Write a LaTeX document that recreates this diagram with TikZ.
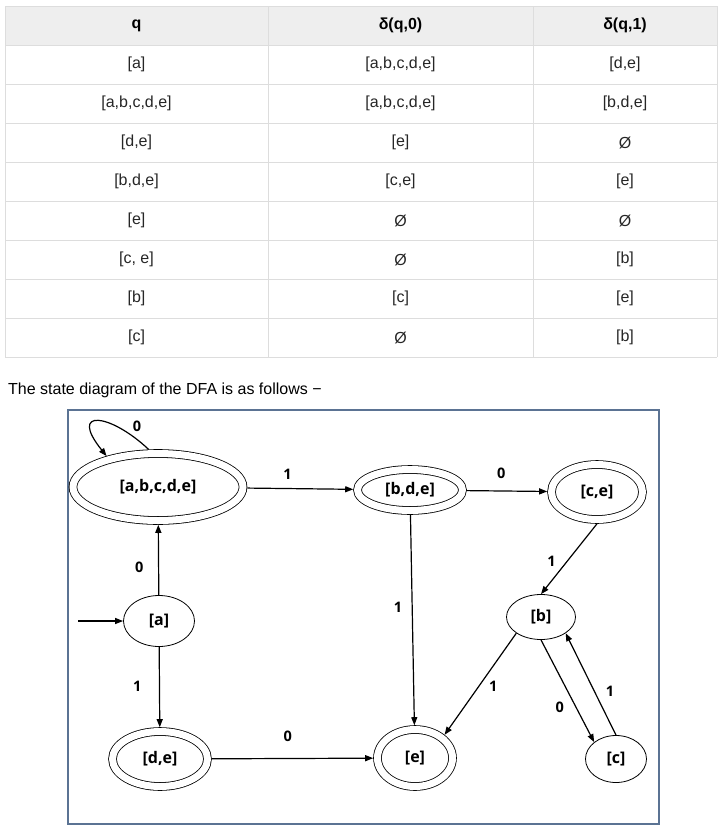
\documentclass[tikz,border=0pt]{standalone}
\usepackage{fontspec}
\setmainfont{Liberation Sans}
\newfontfamily\statefont{Open Sans}
\usetikzlibrary{shapes.geometric,arrows.meta}
\definecolor{gridgray}{HTML}{DDDDDD}
\definecolor{headgray}{HTML}{EEEEEE}
\definecolor{frameblue}{HTML}{5B7393}
\definecolor{celltext}{HTML}{262626}

\tikzset{
    state/.style={draw, ellipse, line width=0.8pt, inner sep=0pt,
        font=\statefont\bfseries\fontsize{16}{19}\selectfont},
    accepting/.style={state, double, double distance=7pt, outer sep=4.3pt},
    trans/.style={line width=1.2pt, -{Triangle[length=8pt,width=6pt]}},
    lbl/.style={inner sep=1pt, font=\statefont\bfseries\fontsize{14.5}{17}\selectfont},
    cell/.style={inner sep=0pt, text=celltext, font=\fontsize{16}{19}\selectfont},
    headcell/.style={inner sep=0pt, font=\bfseries\fontsize{16}{19}\selectfont}
}

\begin{document}
\begin{tikzpicture}[x=1pt, y=-1pt]
    \useasboundingbox (0, 0) rectangle (718, 825);

    % transition table
    \fill[headgray] (5, 6) rectangle (717, 45);
    \foreach \y in {6, 45, 84, ..., 357}
        \draw[gridgray] (5, \y) -- (717, \y);
    \foreach \x in {5, 268, 533, 717}
        \draw[gridgray] (\x, 6) -- (\x, 357);

    \node[headcell] (hq) at (136.5, 25.5) {q};
    \node[headcell] (hzero) at (400.5, 25.5) {δ(q,0)};
    \node[headcell] (hone) at (625, 25.5) {δ(q,1)};

    \foreach \q/\z/\o [count=\i] in {{[a]}/{[a,b,c,d,e]}/{[d,e]},
            {[a,b,c,d,e]}/{[a,b,c,d,e]}/{[b,d,e]}, {[d,e]}/{[e]}/{Ø},
            {[b,d,e]}/{[c,e]}/{[e]}, {[e]}/{Ø}/{Ø}, {[c, e]}/{Ø}/{[b]},
            {[b]}/{[c]}/{[e]}, {[c]}/{Ø}/{[b]}} {
        \node[cell] (q\i) at (136.5, {25.5 + 39*\i}) {\q};
        \node[cell] (zero\i) at (400.5, {25.5 + 39*\i}) {\z};
        \node[cell] (one\i) at (625, {25.5 + 39*\i}) {\o};
    }

    \node[inner sep=0pt, anchor=base west, font=\fontsize{16}{19}\selectfont]
        (caption) at (8, 394) {The state diagram of the DFA is as follows −};

    % state diagram
    \draw[frameblue, line width=1.2pt] (68, 410) rectangle (659, 824);

    \node[accepting, minimum width=170pt, minimum height=67pt] (abcde) at (158, 487) {[a,b,c,d,e]};
    \node[accepting, minimum width=105pt, minimum height=41pt] (bde) at (410, 490) {[b,d,e]};
    \node[accepting, minimum width=91pt, minimum height=55pt] (ce) at (597, 492) {[c,e]};
    \node[state, minimum width=71pt, minimum height=51pt] (a) at (159, 621) {[a]};
    \node[state, minimum width=69pt, minimum height=45pt] (b) at (541, 617) {[b]};
    \node[accepting, minimum width=95pt, minimum height=55pt] (de) at (160, 759) {[d,e]};
    \node[accepting, minimum width=75pt, minimum height=57pt] (e) at (415, 758) {[e]};
    \node[state, minimum width=61pt, minimum height=47pt] (c) at (616, 759) {[c]};

    \coordinate (start) at (78, 621);
    \draw[trans] (start) -- (a);

    \draw[trans] (abcde.104) .. controls (110, 413) and (68, 408) ..
        node[lbl, above=6pt, pos=0.1] {0} (abcde.149);
    \draw[trans] (a) -- node[lbl, left=13.5pt, pos=0.4] {0} (abcde);
    \draw[trans] (a) -- node[lbl, left=16.5pt, pos=0.49] {1} (de);
    \draw[trans] (abcde) -- node[lbl, above=7pt, pos=0.38] {1} (bde);
    \draw[trans] (bde) -- node[lbl, above=11pt, pos=0.43] {0} (ce);
    \draw[trans] (bde) -- node[lbl, left=8.5pt, pos=0.44] {1} (e);
    \draw[trans] (ce.south) -- node[lbl, left=9.5pt, pos=0.54] {1} (b.north);
    \draw[trans] (b.south west) -- node[lbl, right=8.5pt, pos=0.52] {1} (e.north east);
    \draw[trans] (b.south) -- node[lbl, left=10.5pt, pos=0.66] {0} (c.north west);
    \draw[trans] (c.north) -- node[lbl, right=10pt, pos=0.43] {1} (b.south east);
    \draw[trans] (de) -- node[lbl, above=15pt, pos=0.47] {0} (e);
\end{tikzpicture}
\end{document}
